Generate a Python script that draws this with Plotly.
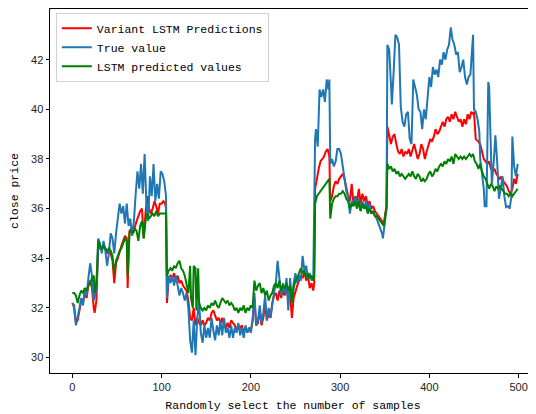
import plotly.graph_objects as go

# (sample index, close price)
true_value = [
    (0, 32.2), (2, 32.0), (4, 31.3), (6, 31.6), (8, 32.0), (10, 32.4), (12, 32.1), (14, 32.8),
    (16, 32.5), (18, 33.2), (20, 33.8), (22, 33.3), (24, 32.3), (26, 32.6), (28, 33.5), (29, 34.8),
    (31, 34.6), (33, 34.2), (35, 34.7), (37, 34.3), (39, 33.7), (41, 34.2), (43, 35.0), (45, 34.8),
    (47, 34.2), (49, 35.0), (51, 35.6), (53, 36.2), (55, 35.8), (57, 36.1), (59, 35.4), (61, 36.2),
    (63, 35.3), (65, 35.6), (67, 34.9), (69, 35.5), (71, 36.6), (73, 37.5), (75, 36.8), (77, 37.8),
    (79, 36.6), (81, 38.2), (83, 36.2), (85, 35.5), (87, 37.3), (89, 36.5), (91, 37.8), (93, 36.3),
    (95, 37.0), (97, 36.4), (99, 37.5), (101, 37.4), (103, 37.1), (105, 36.5), (106, 32.4),
    (108, 33.3), (110, 33.0), (112, 33.3), (114, 32.9), (116, 33.3), (118, 32.9), (120, 32.5),
    (122, 32.8), (124, 32.6), (126, 32.3), (128, 32.6), (130, 32.0), (132, 30.7), (134, 30.2),
    (136, 31.5), (138, 30.1), (140, 31.6), (142, 32.3), (144, 31.0), (146, 30.6), (148, 31.3),
    (150, 30.8), (152, 31.2), (154, 30.8), (156, 31.6), (158, 31.1), (160, 30.7), (162, 31.3),
    (164, 30.9), (166, 31.5), (168, 30.9), (170, 31.6), (172, 31.0), (174, 31.2), (176, 30.8),
    (178, 31.3), (180, 30.8), (182, 31.2), (184, 31.0), (186, 31.4), (188, 30.9), (190, 31.2),
    (192, 30.8), (194, 31.3), (196, 31.0), (198, 31.2), (200, 31.0), (202, 31.5), (204, 32.6),
    (206, 31.3), (208, 31.5), (210, 32.1), (212, 31.4), (214, 31.8), (216, 32.5), (218, 31.5),
    (220, 32.0), (222, 31.6), (224, 32.2), (226, 32.6), (228, 33.0), (230, 33.9), (232, 33.2),
    (234, 32.5), (236, 33.0), (238, 32.6), (240, 33.2), (242, 31.9), (244, 33.2), (246, 32.3),
    (248, 33.0), (250, 33.4), (252, 33.0), (254, 33.3), (256, 33.1), (258, 34.1), (260, 33.5),
    (262, 33.7), (264, 33.2), (266, 33.4), (268, 33.1), (270, 33.3), (272, 38.8), (273, 39.2),
    (275, 38.5), (277, 40.8), (279, 40.5), (281, 40.8), (283, 40.3), (285, 41.2), (287, 40.8),
    (288, 41.2), (289, 37.8), (291, 38.0), (293, 37.7), (295, 37.9), (297, 38.4), (299, 38.4),
    (301, 38.2), (303, 37.7), (305, 37.0), (307, 36.7), (309, 36.5), (311, 35.8), (313, 36.3),
    (315, 36.1), (317, 36.5), (319, 36.0), (321, 36.4), (323, 35.9), (325, 36.3), (327, 36.0),
    (329, 36.3), (331, 35.9), (333, 36.2), (335, 35.8), (337, 35.9), (339, 35.7), (341, 35.6),
    (343, 35.4), (345, 35.2), (347, 35.0), (348, 34.8), (350, 35.4), (352, 36.0), (353, 42.6),
    (355, 42.4), (357, 41.0), (358, 40.2), (360, 41.5), (362, 43.0), (364, 42.9), (366, 42.6),
    (368, 40.1), (370, 39.5), (372, 39.3), (374, 39.8), (376, 39.9), (378, 38.8), (380, 38.6),
    (382, 41.2), (384, 40.9), (386, 40.6), (388, 40.0), (390, 39.9), (392, 39.2), (394, 40.0),
    (396, 39.6), (398, 40.6), (400, 41.3), (402, 40.9), (404, 41.7), (406, 41.4), (408, 41.6),
    (410, 41.3), (412, 42.0), (414, 41.8), (416, 42.3), (418, 42.0), (420, 42.4), (422, 42.6),
    (424, 43.3), (426, 42.8), (428, 42.6), (430, 42.2), (432, 42.3), (434, 41.5), (436, 41.7),
    (438, 42.0), (440, 41.3), (442, 41.0), (444, 41.3), (446, 41.4), (448, 42.85), (449, 43.0),
    (450, 40.0), (452, 39.9), (454, 39.6), (456, 39.1), (457, 38.0), (459, 37.3), (461, 36.8),
    (462, 36.1), (464, 36.1), (465, 38.5), (466, 41.1), (467, 40.9), (469, 38.0), (470, 37.0),
    (472, 37.8), (474, 38.95), (476, 37.9), (478, 36.4), (480, 36.8), (482, 37.3), (484, 36.5),
    (486, 36.06), (488, 36.1), (490, 36.0), (492, 36.5), (493, 38.9), (495, 37.7), (497, 37.3),
    (499, 37.8),
]

variant_lstm = [
    (0, 32.2), (2, 32.1), (4, 31.4), (6, 31.5), (8, 31.9), (10, 32.3), (12, 32.2), (14, 32.6),
    (16, 32.4), (18, 32.9), (20, 33.1), (22, 32.8), (24, 32.0), (25, 31.8), (27, 32.3), (29, 34.5),
    (31, 34.4), (33, 34.3), (35, 34.5), (37, 34.4), (39, 34.2), (41, 34.3), (43, 34.2), (45, 33.9),
    (47, 33.0), (49, 33.8), (51, 34.0), (53, 34.3), (55, 34.5), (57, 34.7), (59, 34.9), (61, 34.8),
    (62, 32.8), (64, 35.1), (66, 35.2), (68, 35.0), (70, 35.3), (72, 35.5), (74, 35.7), (76, 35.9),
    (78, 36.0), (80, 34.8), (82, 35.8), (84, 36.5), (86, 36.0), (88, 35.8), (90, 36.0), (92, 36.3),
    (94, 36.1), (96, 35.8), (98, 36.2), (100, 36.2), (102, 36.3), (104, 36.2), (105, 36.0),
    (106, 32.2), (108, 33.2), (110, 33.3), (112, 33.2), (114, 33.4), (116, 33.1), (118, 33.3),
    (120, 33.0), (122, 33.1), (124, 32.9), (126, 32.8), (128, 32.7), (130, 32.3), (132, 31.6),
    (134, 31.5), (136, 32.0), (138, 31.3), (140, 31.6), (142, 31.4), (144, 31.3), (146, 31.5),
    (148, 31.3), (150, 31.4), (152, 31.6), (154, 31.5), (156, 31.8), (158, 31.9), (160, 31.7),
    (162, 31.5), (164, 31.6), (166, 31.4), (168, 31.6), (170, 31.3), (172, 31.2), (174, 31.4),
    (176, 31.2), (178, 31.5), (180, 31.4), (182, 31.3), (184, 31.1), (186, 31.3), (188, 31.2),
    (190, 31.3), (192, 31.0), (194, 31.2), (196, 31.0), (198, 31.2), (200, 31.1), (202, 31.5),
    (204, 32.4), (206, 31.3), (208, 31.4), (210, 31.9), (212, 31.3), (214, 31.6), (216, 32.1),
    (218, 31.5), (220, 31.8), (222, 31.6), (224, 32.2), (226, 32.5), (228, 32.6), (230, 32.3),
    (232, 32.7), (234, 32.4), (236, 32.7), (238, 32.5), (240, 32.8), (242, 32.4), (244, 32.6),
    (246, 31.6), (248, 32.4), (250, 32.7), (252, 32.9), (254, 33.1), (256, 33.3), (258, 33.2),
    (260, 33.5), (262, 33.1), (264, 33.3), (266, 32.8), (268, 33.0), (270, 32.7), (271, 33.0),
    (272, 36.8), (274, 37.3), (276, 37.6), (278, 37.9), (280, 38.0), (282, 38.1), (284, 38.3),
    (286, 38.4), (288, 38.1), (289, 36.3), (291, 36.5), (293, 36.9), (295, 37.1), (297, 37.0),
    (299, 37.2), (301, 37.3), (303, 37.4), (305, 37.2), (307, 36.8), (309, 36.5), (311, 36.3),
    (313, 37.0), (315, 36.2), (317, 36.5), (319, 36.3), (321, 36.8), (323, 36.2), (325, 36.6),
    (327, 36.3), (329, 36.5), (331, 36.1), (333, 36.3), (335, 36.0), (337, 36.1), (339, 35.9),
    (341, 35.8), (343, 35.7), (345, 35.6), (347, 35.5), (349, 35.4), (351, 35.9), (352, 36.1),
    (353, 39.3), (355, 39.0), (357, 38.6), (359, 38.9), (361, 39.0), (363, 38.6), (365, 38.3),
    (367, 38.2), (369, 38.4), (371, 38.1), (373, 38.3), (375, 38.2), (377, 38.4), (379, 38.1),
    (381, 38.4), (383, 38.6), (385, 38.3), (387, 38.0), (389, 38.2), (391, 38.6), (393, 38.4),
    (395, 38.0), (397, 38.3), (399, 38.6), (401, 38.8), (403, 38.7), (405, 38.9), (407, 39.2),
    (409, 39.0), (411, 39.1), (413, 39.3), (415, 39.5), (417, 39.3), (419, 39.6), (421, 39.7),
    (423, 39.5), (425, 39.8), (427, 39.6), (429, 39.9), (431, 39.7), (433, 39.5), (435, 39.6),
    (437, 39.3), (439, 39.6), (441, 39.4), (443, 39.8), (445, 39.6), (447, 39.9), (449, 39.8),
    (450, 39.9), (452, 38.8), (455, 38.7), (457, 38.6), (459, 38.3), (461, 38.0), (463, 37.9),
    (465, 37.8), (467, 37.9), (469, 37.6), (471, 37.5), (473, 37.6), (475, 37.4), (477, 37.3),
    (479, 37.2), (481, 37.3), (483, 37.1), (485, 37.0), (487, 36.9), (489, 36.7), (491, 36.6),
    (493, 36.8), (495, 37.2), (497, 37.0), (499, 37.4),
]

lstm_pred = [
    (0, 32.6), (2, 32.6), (4, 32.5), (6, 32.2), (8, 32.5), (10, 32.7), (12, 32.6), (14, 32.8),
    (16, 32.7), (18, 32.9), (20, 33.0), (22, 33.2), (24, 33.3), (25, 32.6), (27, 33.0), (29, 34.7),
    (31, 34.5), (33, 34.4), (35, 34.5), (37, 34.4), (39, 34.3), (41, 34.4), (43, 34.3), (45, 34.1),
    (47, 33.4), (49, 33.9), (51, 34.1), (53, 34.3), (55, 34.4), (57, 34.6), (59, 34.8), (61, 34.7),
    (62, 33.3), (64, 35.0), (66, 35.1), (68, 35.0), (70, 35.2), (72, 35.1), (74, 34.7), (76, 35.3),
    (78, 35.5), (80, 34.8), (82, 35.5), (84, 35.8), (86, 35.6), (88, 35.7), (90, 35.8), (92, 35.7),
    (94, 35.9), (96, 35.7), (98, 35.8), (100, 35.8), (102, 35.8), (104, 35.8), (105, 35.8),
    (106, 33.3), (108, 33.5), (110, 33.6), (112, 33.5), (114, 33.7), (116, 33.6), (118, 33.8),
    (120, 33.9), (122, 33.6), (124, 33.5), (126, 33.3), (128, 33.0), (130, 32.6), (132, 33.7),
    (133, 32.4), (135, 32.0), (136, 33.7), (138, 33.6), (139, 31.9), (141, 33.6), (142, 32.2),
    (144, 32.0), (146, 31.9), (148, 32.0), (150, 31.9), (152, 32.1), (154, 32.0), (156, 32.2),
    (158, 32.1), (160, 32.3), (162, 32.1), (164, 32.0), (166, 32.2), (168, 32.4), (170, 32.3),
    (172, 32.2), (174, 32.3), (176, 32.1), (178, 32.2), (180, 32.1), (182, 31.9), (184, 32.0),
    (186, 31.8), (188, 32.0), (190, 31.9), (192, 32.1), (194, 31.8), (196, 32.0), (198, 31.9),
    (200, 32.1), (202, 32.0), (204, 33.1), (206, 32.7), (208, 32.9), (210, 33.0), (212, 32.6),
    (214, 32.8), (216, 32.5), (218, 32.7), (220, 32.3), (222, 32.5), (224, 32.6), (226, 32.9),
    (228, 33.0), (230, 32.8), (232, 33.1), (234, 32.7), (236, 32.9), (238, 32.8), (240, 33.0),
    (242, 32.7), (244, 32.9), (246, 32.2), (248, 32.8), (250, 33.1), (252, 33.2), (254, 33.4),
    (256, 33.6), (258, 33.4), (260, 33.5), (262, 33.2), (264, 33.4), (266, 33.2), (268, 33.3),
    (270, 33.1), (271, 33.3), (272, 36.2), (274, 36.5), (276, 36.6), (278, 36.7), (280, 36.8),
    (282, 36.9), (284, 37.0), (286, 37.1), (288, 37.2), (289, 35.6), (291, 36.2), (293, 36.4),
    (295, 36.5), (297, 36.5), (299, 36.6), (301, 36.6), (303, 36.7), (305, 36.6), (307, 36.4),
    (309, 36.3), (311, 36.0), (313, 36.2), (315, 36.1), (317, 36.3), (319, 36.0), (321, 36.3),
    (323, 35.9), (325, 36.2), (327, 36.0), (329, 36.1), (331, 35.8), (333, 36.0), (335, 35.8),
    (337, 35.9), (339, 35.7), (341, 35.7), (343, 35.6), (345, 35.5), (347, 35.4), (349, 35.3),
    (351, 35.8), (352, 36.0), (353, 37.8), (355, 37.6), (357, 37.7), (359, 37.5), (361, 37.6),
    (363, 37.4), (365, 37.5), (367, 37.3), (369, 37.4), (371, 37.3), (373, 37.2), (375, 37.3),
    (377, 37.4), (379, 37.3), (381, 37.5), (383, 37.3), (385, 37.2), (387, 37.4), (389, 37.3),
    (391, 37.1), (393, 37.2), (395, 37.1), (397, 37.2), (399, 37.4), (401, 37.5), (403, 37.3),
    (405, 37.4), (407, 37.6), (409, 37.5), (411, 37.7), (413, 37.8), (415, 37.7), (417, 37.9),
    (419, 37.8), (421, 38.0), (423, 37.9), (425, 38.1), (427, 37.8), (429, 38.2), (431, 38.1),
    (433, 38.0), (435, 38.1), (437, 38.0), (439, 38.1), (441, 38.0), (443, 38.1), (445, 38.2),
    (447, 38.1), (449, 38.2), (451, 37.9), (453, 37.8), (455, 37.6), (457, 37.8), (459, 37.5),
    (461, 37.3), (463, 37.2), (465, 37.0), (467, 36.8), (469, 37.0), (471, 36.9), (473, 36.7),
    (475, 36.9), (477, 36.8), (479, 36.9), (481, 36.8), (483, 36.7), (485, 36.6), (487, 36.6),
    (489, 36.5), (491, 36.6), (493, 36.5), (495, 36.6), (497, 36.7), (499, 36.8),
]

series = [
    ("Variant LSTM Predictions", variant_lstm, "#ff0000"),
    ("True value", true_value, "#1f77b4"),
    ("LSTM predicted values", lstm_pred, "#008000"),
]

x_ticks = [0, 100, 200, 300, 400, 500]
y_ticks = [30, 32, 34, 36, 38, 40, 42]

mono = "Liberation Mono"

fig = go.Figure()
for name, pts, color in series:
    xs = [p[0] for p in pts]
    ys = [p[1] for p in pts]
    fig.add_trace(go.Scatter(x=xs, y=ys, mode="lines", name=name,
                             line=dict(color=color, width=2)))

# the page adds an 8px body margin, so the figure is 8px smaller and margins shifted
fig.update_layout(
    width=528, height=406,
    margin=dict(l=42, r=0, t=1, b=41),
    paper_bgcolor="white", plot_bgcolor="white",
    showlegend=True,
    legend=dict(x=0.012, y=0.99, xanchor="left", yanchor="top",
                bgcolor="rgba(255,255,255,0.85)", bordercolor="#d0d0d0", borderwidth=1,
                font=dict(family=mono, size=11.5, color="#000000"),
                tracegroupgap=0),
    xaxis=dict(range=[-25, 519.5], tickvals=x_ticks, ticktext=[str(v) for v in x_ticks],
               showgrid=False, zeroline=False, showline=True, mirror=True,
               linecolor="#000000", linewidth=1, ticks="outside", ticklen=3.5,
               tickcolor="#000000", tickfont=dict(family="Liberation Sans", size=11, color="#222"),
               title=dict(text="Randomly select the number of samples", standoff=9,
                          font=dict(family=mono, size=11.5, color="#000")),
               automargin=False),
    yaxis=dict(range=[29.38, 44.04], tickvals=y_ticks, ticktext=[str(v) for v in y_ticks],
               showgrid=False, zeroline=False, showline=True, mirror=False,
               linecolor="#000000", linewidth=1, ticks="outside", ticklen=3.5,
               tickcolor="#000000", tickfont=dict(family="Liberation Sans", size=11, color="#222"),
               title=dict(text="close price", standoff=12,
                          font=dict(family=mono, size=11.5, color="#000")),
               automargin=False),
)

fig.write_html("out.html")
